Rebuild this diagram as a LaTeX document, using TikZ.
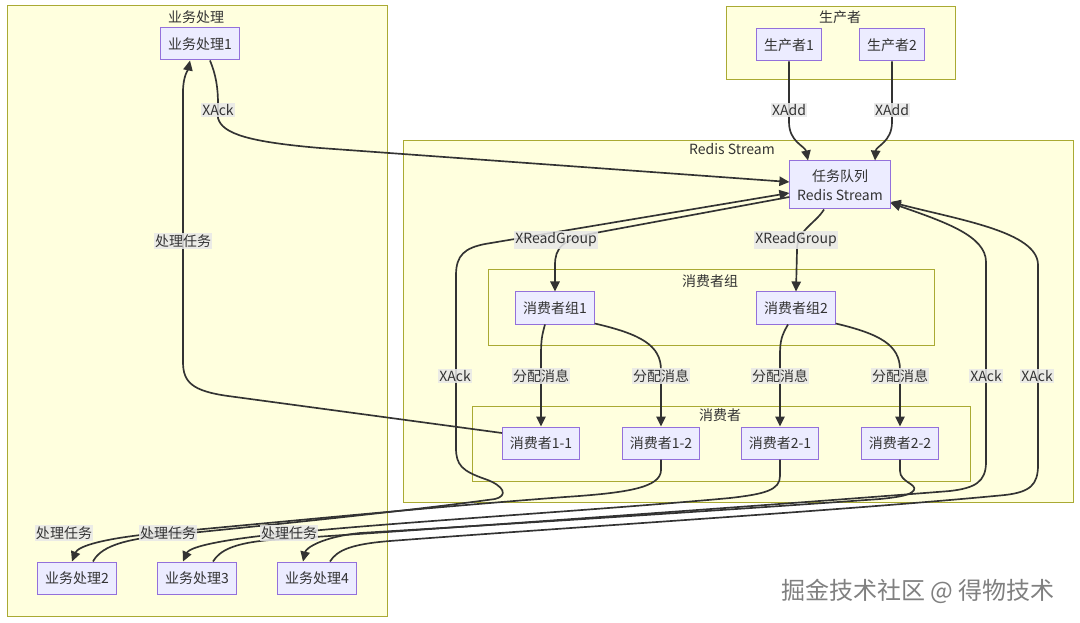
\documentclass[tikz,border=0pt]{standalone}
\usepackage{fontspec}
\setmainfont{Noto Sans CJK SC}
\usetikzlibrary{arrows.meta,calc}
\definecolor{clfill}{HTML}{FFFFDE}
\definecolor{cldraw}{HTML}{AAAA33}
\definecolor{ndfill}{HTML}{ECECFF}
\definecolor{nddraw}{HTML}{9370DB}
\definecolor{edgec}{HTML}{333333}
\definecolor{lblbg}{HTML}{E8E8E8}
\begin{document}
\begin{tikzpicture}[x=0.75pt,y=-0.75pt,
  cluster/.style={draw=cldraw,fill=clfill,line width=0.75pt},
  ctitle/.style={font=\fontsize{10.5}{12}\selectfont,text=edgec,inner sep=0pt},
  box/.style={draw=nddraw,fill=ndfill,line width=0.75pt,font=\fontsize{10.5}{12}\selectfont,text=edgec,minimum height=24pt,inner xsep=5.5pt,inner ysep=0pt},
  edge/.style={draw=edgec,line width=1.25pt,-{Triangle[length=7.5pt,width=7pt]}},
  lbl/.style={fill=lblbg,fill opacity=0.85,text opacity=1,font=\fontsize{10.5}{12}\selectfont,text=edgec,inner sep=1pt}]
\useasboundingbox (0,0) rectangle (1080,623);
\fill[white] (0,0) rectangle (1080,623);

% clusters
\draw[cluster] (7,6) rectangle (387,616);
\node[ctitle] (t1) at (196,17) {业务处理};
\draw[cluster] (726,7) rectangle (955,80);
\node[ctitle] (t2) at (840,17) {生产者};
\draw[cluster] (403,141) rectangle (1073,502);
\node[ctitle] (t3) at (732,149) {Redis Stream};
\draw[cluster] (488,270) rectangle (934,345);
\node[ctitle] (t4) at (710,281) {消费者组};
\draw[cluster] (472,406) rectangle (970,481);
\node[ctitle] (t5) at (720,415) {消费者};

% nodes
\node[box] (b1) at (200,44) {业务处理1};
\node[box] (p1) at (789,45) {生产者1};
\node[box] (p2) at (892,45) {生产者2};
\node[box,align=center,minimum height=36pt,font=\fontsize{10.5}{14.2}\selectfont] (q) at (840,185) {任务队列\\Redis Stream};
\node[box] (g1) at (555,308) {消费者组1};
\node[box] (g2) at (796,308) {消费者组2};
\node[box] (c11) at (541,443) {消费者1-1};
\node[box] (c12) at (661,443) {消费者1-2};
\node[box] (c21) at (780,443) {消费者2-1};
\node[box] (c22) at (900,443) {消费者2-2};
\node[box] (b2) at (77,578) {业务处理2};
\node[box] (b3) at (197,578) {业务处理3};
\node[box] (b4) at (317,578) {业务处理4};

% producer edges
\draw[edge] (p1.south) -- (789,122) .. controls (789,142) and (805,146) .. ($(q.north)+(-32,0)$);
\draw[edge] (p2.south) -- (892,122) .. controls (892,142) and (876,146) .. ($(q.north)+(35,0)$);

% queue -> groups
\draw[edge] ($(q.west)+(0,12)$) -- (595,233) .. controls (562,239) and (555,248) .. (555,265) -- (g1.north);
\draw[edge] ($(q.south)+(-16,0)$) .. controls (815,224) and (797,230) .. (797,250) -- (g2.north);

% groups -> consumers
\draw[edge] ($(g1.south)+(-10,0)$) .. controls (542,335) and (541,340) .. (541,355) -- (c11.north);
\draw[edge] ($(g1.south east)+(0,-1)$) .. controls (640,334) and (661,345) .. (661,370) -- (c12.north);
\draw[edge] ($(g2.south)+(-8,0)$) .. controls (782,335) and (780,340) .. (780,355) -- (c21.north);
\draw[edge] ($(g2.south east)+(0,-1)$) .. controls (880,334) and (900,345) .. (900,370) -- (c22.north);

% consumer 1-1 -> b1
\draw[edge] ($(c11.west)+(0,-10)$) -- (228,396) .. controls (192,391) and (183,382) .. (183,362) -- (183,92) .. controls (183,76) and (188,70) .. ($(b1.south)+(-10,0)$);

% b1 -> queue
\draw[edge] ($(b1.south)+(10,0)$) .. controls (216,75) and (218,88) .. (218,104) -- (218,118) .. controls (222,134) and (250,142) .. (320,148) -- ($(q.west)+(0,-3)$);

% consumers -> b2..b4
\draw[edge] (c12.south) -- (661,470) .. controls (661,488) and (625,493) .. (565,497) .. controls (420,508) and (260,524) .. (160,533) .. controls (105,538) and (78,546) .. ($(b2.north)+(-5,0)$);
\draw[edge] (c21.south) -- (780,476) .. controls (780,490) and (765,494) .. (730,498) .. controls (600,510) and (400,522) .. (300,532) .. controls (230,538) and (190,546) .. ($(b3.north)+(-14,0)$);
\draw[edge] (c22.south) -- (900,471) .. controls (900,482) and (917,484) .. (914,490) .. controls (911,495) and (900,497) .. (880,499) .. controls (700,512) and (460,527) .. (360,533) .. controls (322,537) and (306,548) .. ($(b4.north)+(-14,0)$);

% b2..b4 -> queue (XAck)
\draw[edge] ($(b2.north)+(16,0)$) .. controls (100,548) and (120,540) .. (160,536) .. controls (250,527) and (400,512) .. (495,499) .. controls (508,496) and (505,486) .. (485,479) .. controls (462,471) and (456,465) .. (456,448) -- (456,275) .. controls (456,255) and (465,248) .. (485,244) -- ($(q.west)+(0,8)$);
\draw[edge] ($(b3.north)+(16,0)$) .. controls (220,550) and (235,543) .. (270,540) .. controls (420,530) and (760,506) .. (950,491) .. controls (975,488) and (986,482) .. (986,462) -- (986,262) .. controls (986,236) and (945,222) .. ($(q.east)+(0,18)$);
\draw[edge] ($(b4.north)+(13,0)$) .. controls (337,550) and (352,544) .. (390,541) .. controls (560,528) and (850,510) .. (1005,495) .. controls (1030,492) and (1038,485) .. (1038,465) -- (1038,265) .. controls (1038,232) and (960,220) .. ($(q.east)+(0,17)$);

% edge labels
\node[lbl] (l1) at (789,110) {XAdd};
\node[lbl] (l2) at (892,110) {XAdd};
\node[lbl] (l3) at (556,240) {XReadGroup};
\node[lbl] (l4) at (796,240) {XReadGroup};
\node[lbl] (l5) at (541,376) {分配消息};
\node[lbl] (l6) at (661,376) {分配消息};
\node[lbl] (l7) at (780,376) {分配消息};
\node[lbl] (l8) at (900,376) {分配消息};
\node[lbl] (l9) at (218,110) {XAck};
\node[lbl] (l10) at (183,241) {处理任务};
\node[lbl] (l11) at (455,376) {XAck};
\node[lbl] (l12) at (986,376) {XAck};
\node[lbl] (l13) at (1037,376) {XAck};
\node[lbl] (l14) at (64,533) {处理任务};
\node[lbl] (l15) at (168,533) {处理任务};
\node[lbl] (l16) at (289,533) {处理任务};

% watermark
\node[text=black!50,font=\fontsize{18}{21}\selectfont,inner sep=0pt] (wm) at (918,591) {掘金技术社区 @ 得物技术};
\end{tikzpicture}
\end{document}
